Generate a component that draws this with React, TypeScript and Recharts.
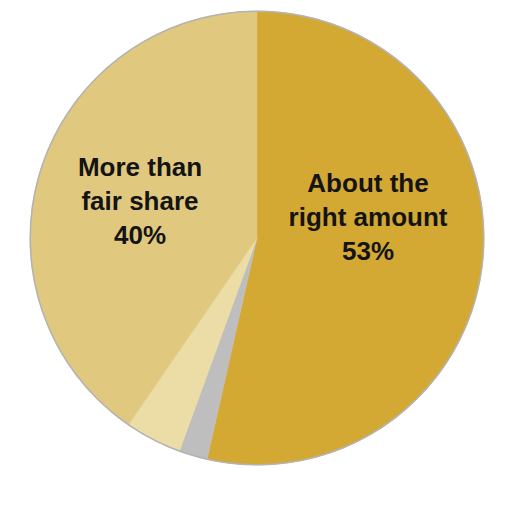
import { PieChart, Pie, Cell } from 'recharts';

const categories = ['About the right amount', "Don't know", 'Less than fair share', 'More than fair share'];
const shares = [53, 2, 4, 40];
const sliceColors = ['#d3a833', '#bebebe', '#ecdca6', '#e1c87f'];
// label text per slice (empty = no label)
const labelLines = [['About the', 'right amount', '53%'], [], [], ['More than', 'fair share', '40%']];
// label block offsets from the pie centre
const labelOffsets = [
  { dx: 111, dy: -46 },
  { dx: 0, dy: 0 },
  { dx: 0, dy: 0 },
  { dx: -117, dy: -62 },
];

const data = categories.map((name, i) => ({ name, value: shares[i] }));
const outline = [{ name: 'outline', value: 1 }];

const LINE_GAP = 34;

function renderLabel(props: any) {
  const { cx, cy, index } = props;
  const lines = labelLines[index];
  if (!lines || lines.length === 0) return null;
  const off = labelOffsets[index];
  return (
    <text
      x={cx + off.dx}
      y={cy + off.dy}
      textAnchor="middle"
      fill="#141414"
      style={{ fontFamily: '"Liberation Sans", Arial, sans-serif', fontWeight: 700, fontSize: 26 }}
    >
      {lines.map((line, i) => (
        <tspan key={i} x={cx + off.dx} dy={i === 0 ? 0 : LINE_GAP}>
          {line}
        </tspan>
      ))}
    </text>
  );
}

export default function App() {
  return (
    <div style={{ width: 512, height: 512, background: '#fff' }}>
      <PieChart width={504} height={504} margin={{ top: 0, right: 0, bottom: 0, left: 0 }}>
        <Pie
          data={data}
          dataKey="value"
          cx={249}
          cy={230}
          outerRadius={227}
          startAngle={90}
          endAngle={-270}
          stroke="none"
          label={renderLabel}
          labelLine={false}
          isAnimationActive={false}
        >
          {data.map((entry, i) => (
            <Cell key={entry.name} fill={sliceColors[i]} stroke={sliceColors[i]} strokeWidth={0.5} />
          ))}
        </Pie>
        <Pie
          data={outline}
          dataKey="value"
          cx={249}
          cy={230}
          innerRadius={226}
          outerRadius={227.5}
          fill="#b3b3b3"
          stroke="none"
          isAnimationActive={false}
        />
      </PieChart>
    </div>
  );
}
